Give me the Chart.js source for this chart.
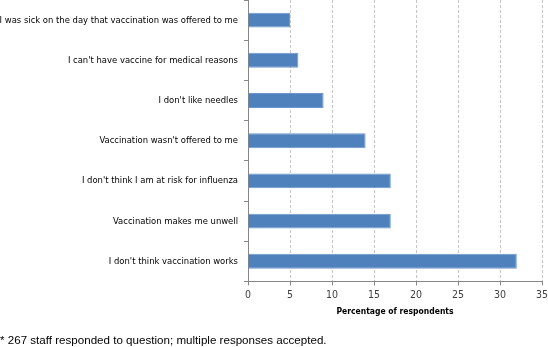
<!DOCTYPE html>
<html>
<head>
<meta charset="utf-8">
<script src="https://cdn.jsdelivr.net/npm/chart.js@4/dist/chart.umd.min.js"></script>
<style>
html,body{margin:0;padding:0;background:#fff;}
#wrap{position:relative;width:548px;height:347px;}
</style>
</head>
<body>
<div id="wrap"><canvas id="c" width="548" height="347"></canvas></div>
<script>
const categories = [
  "I was sick on the day that vaccination was offered to me",
  "I can't have vaccine for medical reasons",
  "I don't like needles",
  "Vaccination wasn't offered to me",
  "I don't think I am at risk for influenza",
  "Vaccination makes me unwell",
  "I don't think vaccination works"
];
const percentages = [5, 6, 9, 14, 17, 17, 32];
const xTicks = [0, 5, 10, 15, 20, 25, 30, 35];
const xTitle = "Percentage of respondents";
const footnote = "* 267 staff responded to question; multiple responses accepted.";

const labelFont = '"Liberation Sans Narrow", "DejaVu Sans Condensed", "Liberation Sans", sans-serif';

new Chart(document.getElementById('c'), {
  type: 'bar',
  data: {
    labels: categories,
    datasets: [{
      data: percentages,
      backgroundColor: '#4f81bd',
      borderColor: '#6b97cc',
      borderWidth: 1,
      barPercentage: 0.37,
      categoryPercentage: 1
    }]
  },
  options: {
    indexAxis: 'y',
    responsive: false,
    animation: false,
    devicePixelRatio: 1,
    layout: { padding: { left: 0, right: 6, top: 0, bottom: 0 } },
    plugins: {
      legend: { display: false },
      tooltip: { enabled: false },
      title: {
        display: true,
        text: footnote,
        position: 'bottom',
        align: 'start',
        color: '#000',
        font: { family: '"Liberation Sans", Arial, sans-serif', size: 11.6, weight: 'normal', lineHeight: 1.0 },
        padding: { top: 9, bottom: 0 }
      }
    },
    scales: {
      x: {
        type: 'linear',
        min: xTicks[0],
        max: xTicks[xTicks.length - 1],
        afterBuildTicks: (s) => { s.ticks = xTicks.map(v => ({ value: v })); },
        afterFit: (s) => { s.height = 45; s.paddingLeft = 0; s.paddingRight = 0; },
        ticks: {
          color: '#404040',
          font: { family: labelFont, size: 10.5 },
          padding: 4,
          maxRotation: 0
        },
        grid: {
          color: '#c4c4c4',
          lineWidth: 1,
          tickLength: 4,
          tickColor: '#868686',
          drawTicks: true
        },
        border: { display: true, color: '#868686', width: 1, dash: [3, 2] },
        title: {
          display: true,
          text: xTitle,
          color: '#000',
          font: { family: labelFont, size: 8.5, weight: 'bold', lineHeight: 1.2 },
          padding: { top: 0, bottom: 10 }
        }
      },
      y: {
        type: 'category',
        offset: true,
        afterFit: (s) => { s.width = 248; s.paddingTop = 0; s.paddingBottom = 0; },
        ticks: {
          color: '#000',
          font: { family: labelFont, size: 9.4 },
          padding: 6,
          autoSkip: false
        },
        grid: {
          offset: true,
          drawOnChartArea: false,
          tickLength: 4,
          color: '#868686',
          tickColor: '#868686'
        },
        border: { display: true, color: '#868686', width: 1 }
      }
    }
  }
});
</script>
</body>
</html>
